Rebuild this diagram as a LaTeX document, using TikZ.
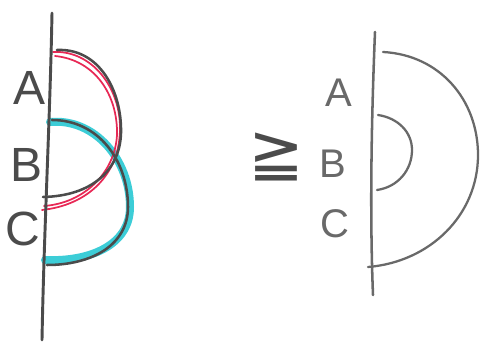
\documentclass[tikz,border=0pt]{standalone}
\usepackage{fontspec}
\setmainfont{Liberation Sans}
\newfontfamily\symfont{DejaVu Sans}
\definecolor{pencil}{RGB}{75,75,75}
\definecolor{pencillight}{RGB}{105,105,105}
\definecolor{hlred}{RGB}{232,40,85}
\definecolor{hlcyan}{RGB}{60,205,215}
\tikzset{
  axisline/.style={draw=pencil,line width=2.2pt,line cap=round},
  arcline/.style={draw=pencil,line width=1.9pt,line cap=round},
  redline/.style={draw=hlred,line width=1.3pt,line cap=round},
  cyanline/.style={draw=hlcyan,line width=6pt,line cap=round},
  rline/.style={draw=pencillight,line width=1.7pt,line cap=round},
  bigletter/.style={text=pencil,font=\fontsize{36}{36}\selectfont},
  smallletter/.style={text=pencillight,font=\fontsize{30}{30}\selectfont},
}
\begin{document}
\begin{tikzpicture}[x=0.75pt,y=-0.75pt]
\useasboundingbox (0,0) rectangle (486,348);
\fill[white] (0,0) rectangle (486,348);
% ---- left figure ----
% cyan highlight
\path[cyanline] (50,122) .. controls (95,118) and (130,160) .. (130,207)
  .. controls (130,245) and (90,262) .. (45,260);
% red arcs
\path[redline] (53,52) .. controls (92,50) and (121,88) .. (120,130)
  .. controls (119,175) and (88,205) .. (42,210);
\path[redline] (55,56) .. controls (95,60) and (118,95) .. (117,135)
  .. controls (115,172) and (85,203) .. (44,206);
% black arcs
\path[arcline] (57,50) .. controls (100,48) and (122,92) .. (121,133)
  .. controls (120,170) and (92,196) .. (43,197);
\path[arcline] (52,120) .. controls (98,120) and (128,160) .. (128,207)
  .. controls (128,245) and (92,265) .. (47,265);
% axis
\path[axisline] (52,13) .. controls (50,120) and (44,230) .. (42,340);
\node[bigletter] (la) at (30,88) {A};
\node[bigletter] (lb) at (27,165) {B};
\node[bigletter] (lc) at (23,229) {C};
% ---- relation ----
\node[text=pencil,font=\symfont\fontsize{50}{50}\selectfont] (rel) at (276,157) {≧};
% ---- right figure ----
\path[rline] (383,52) .. controls (440,55) and (478,100) .. (478,155)
  .. controls (478,215) and (430,262) .. (368,267);
\path[rline] (378,115) .. controls (398,118) and (412,132) .. (412,150)
  .. controls (412,170) and (398,187) .. (377,190);
\path[axisline,draw=pencillight,line width=1.9pt] (375,32) .. controls (371,130) and (370,220) .. (373,295);
\node[smallletter] (ra) at (339,93) {A};
\node[smallletter] (rb) at (333,164) {B};
\node[smallletter] (rc) at (335,224) {C};
\end{tikzpicture}
\end{document}
